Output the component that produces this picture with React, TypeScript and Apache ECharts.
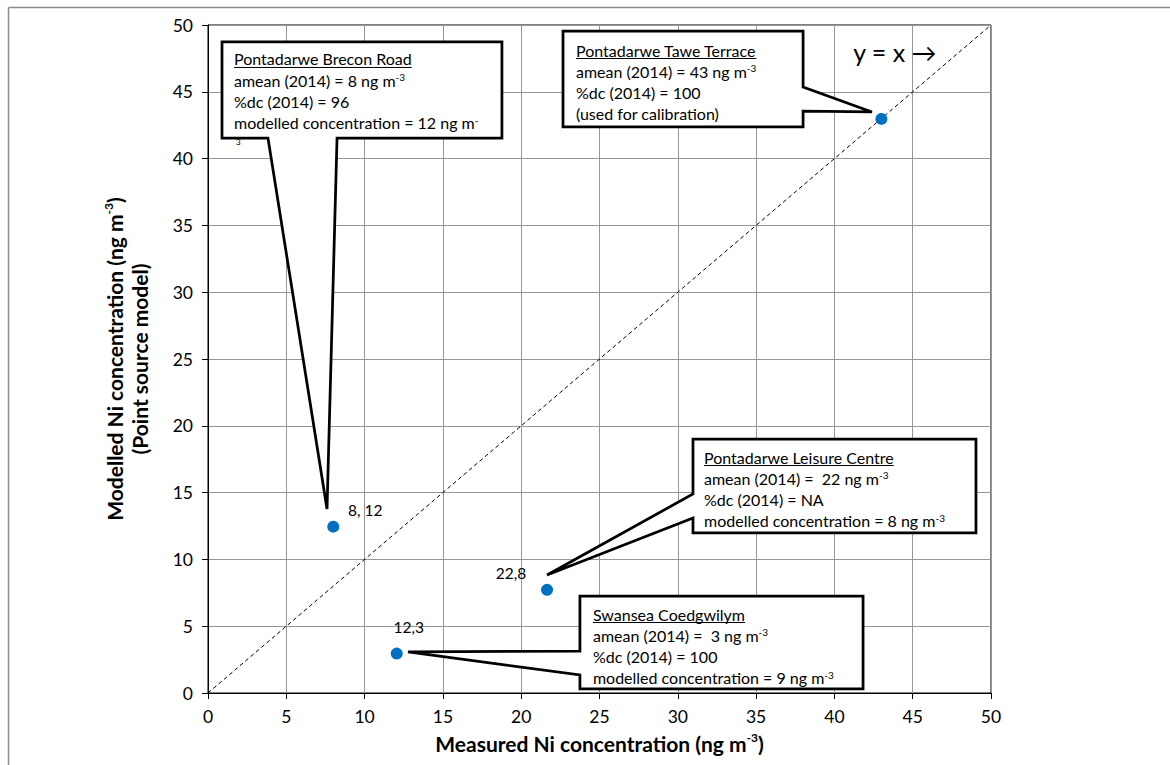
import React, { useEffect, useRef } from "react";
import * as echarts from "echarts";

// ---------- data ----------
const siteNames = [
  "Pontadarwe Brecon Road",
  "Swansea Coedgwilym",
  "Pontadarwe Leisure Centre",
  "Pontadarwe Tawe Terrace",
];
const measuredNi = [8.0, 12.05, 21.65, 43.0];
const modelledNi = [12.45, 2.95, 7.72, 42.97];
const pointLabels = ["8, 12", "12,3", "22,8", ""];
const identityLine = [
  [0, 0],
  [50, 50],
];
const axisMin = 0;
const axisMax = 50;
const axisStep = 5;

const xAxisTitle = "{b|Measured Ni concentration (ng m}{s|-3}{b|)}";
const yAxisTitle = "{b|Modelled Ni concentration (ng m}{s|-3}{b|)}\n{b|(Point source model)}";
const identityNote = "y = x \u2192";

const calloutTitles = [
  "Pontadarwe Brecon Road",
  "Pontadarwe Tawe Terrace",
  "Pontadarwe Leisure Centre",
  "Swansea Coedgwilym",
];
const calloutLines = [
  ["amean (2014) = 8 ng m{s|-3}", "%dc (2014) = 96", "modelled concentration = 12 ng m{s|-}"],
  ["amean (2014) = 43 ng m{s|-3}", "%dc (2014) = 100", "(used for calibration)"],
  ["amean (2014) =  22 ng m{s|-3}", "%dc (2014) = NA", "modelled concentration = 8 ng m{s|-3}"],
  ["amean (2014) =  3 ng m{s|-3}", "%dc (2014) = 100", "modelled concentration = 9 ng m{s|-3}"],
];

// ---------- layout (annotation geometry in axis units) ----------
const calloutShapes: number[][][] = [
  [[0.894, 48.73], [18.77, 48.73], [18.77, 41.54], [8.24, 41.54], [7.6, 13.77], [3.83, 41.54], [0.894, 41.54]],
  [[22.67, 49.55], [38.0, 49.55], [38.0, 45.36], [42.4, 43.49], [38.0, 43.56], [38.0, 42.37], [22.67, 42.37]],
  [[30.97, 19.01], [49.04, 19.01], [49.04, 11.98], [30.97, 11.98], [30.97, 13.1], [21.65, 8.83], [30.97, 14.9]],
  [[23.75, 7.26], [41.83, 7.26], [41.83, 0.3], [23.75, 0.3], [23.75, 1.35], [12.77, 3.07], [23.75, 3.14]],
];
const calloutTextOffsets = [
  [12, 17],
  [13, 19],
  [11, 18],
  [13, 18],
];
const labelOffsets = [
  [32, -17],
  [12, -27],
  [-36, -17],
  [0, 0],
];
const notePos = [41.2, 47.95];

const FONT = "Lato";
const TXT = 16;
const LINE_GAP = 21.3;
const TITLE = 21;

function measure(text: string, font: string): number {
  const c = document.createElement("canvas").getContext("2d");
  if (!c) return text.length * 7;
  c.font = font;
  return c.measureText(text).width;
}

export default function App() {
  const ref = useRef<HTMLDivElement>(null);

  useEffect(() => {
    if (!ref.current) return;
    const chart = echarts.init(ref.current, null, { renderer: "svg" });

    const scatterData = measuredNi.map((x, i) => ({
      value: [x, modelledNi[i]],
      name: siteNames[i],
      label: {
        show: pointLabels[i] !== "",
        formatter: pointLabels[i],
        position: "inside",
        offset: labelOffsets[i],
        color: "#000",
        fontSize: 15.5,
        fontFamily: FONT,
      },
    }));

    const titleRich = {
      b: { fontSize: TITLE, fontWeight: "bold", fontFamily: FONT, color: "#000", lineHeight: 25 },
      s: { fontSize: 12, fontWeight: "bold", fontFamily: FONT, color: "#000", verticalAlign: "top" },
    };

    const option: any = {
      animation: false,
      backgroundColor: "#fff",
      textStyle: { fontFamily: FONT },
      grid: {
        left: 208,
        top: 25,
        right: 179,
        bottom: 72,
        show: true,
        borderColor: "#000",
        borderWidth: 1,
        backgroundColor: "transparent",
      },
      xAxis: {
        type: "value",
        min: axisMin,
        max: axisMax,
        interval: axisStep,
        axisLine: { show: true, lineStyle: { color: "#000", width: 1 } },
        axisTick: { show: true, inside: false, length: 6, lineStyle: { color: "#000" } },
        axisLabel: { color: "#000", fontSize: 17.5, fontFamily: FONT, margin: 14 },
        splitLine: { show: true, lineStyle: { color: "#969696", width: 1 } },
        name: xAxisTitle,
        nameLocation: "middle",
        nameGap: 38,
        nameTextStyle: {
          color: "#000",
          fontFamily: FONT,
          fontSize: TITLE,
          fontWeight: "bold",
          rich: titleRich,
        },
      },
      yAxis: {
        type: "value",
        min: axisMin,
        max: axisMax,
        interval: axisStep,
        axisLine: { show: true, lineStyle: { color: "#000", width: 1 } },
        axisTick: { show: true, inside: false, length: 6, lineStyle: { color: "#000" } },
        axisLabel: { color: "#000", fontSize: 17.5, fontFamily: FONT, margin: 15 },
        splitLine: { show: true, lineStyle: { color: "#969696", width: 1 } },
        name: yAxisTitle,
        nameLocation: "middle",
        nameRotate: 90,
        nameGap: 56,
        nameTextStyle: {
          color: "#000",
          fontFamily: FONT,
          fontSize: TITLE,
          fontWeight: "bold",
          lineHeight: 25,
          rich: titleRich,
        },
      },
      series: [
        {
          type: "line",
          data: identityLine,
          symbol: "none",
          silent: true,
          lineStyle: { color: "#000", width: 1, type: [4, 3] },
          z: 2,
        },
        {
          type: "scatter",
          data: scatterData,
          symbol: "circle",
          symbolSize: 12,
          itemStyle: { color: "#0070C0", opacity: 1 },
          z: 5,
        },
      ],
    };

    chart.setOption(option);

    const toPx = (p: number[]) => chart.convertToPixel({ gridIndex: 0 }, p) as number[];
    const elements: any[] = [];

    // outer frame
    elements.push({
      type: "line",
      shape: { x1: 8.5, y1: 7.5, x2: 1170, y2: 7.5 },
      style: { stroke: "#8c8c8c", lineWidth: 1.5 },
      silent: true,
    });
    elements.push({
      type: "line",
      shape: { x1: 8.5, y1: 7.5, x2: 8.5, y2: 765 },
      style: { stroke: "#8c8c8c", lineWidth: 1.5 },
      silent: true,
    });

    const rich = {
      s: { fontSize: 10, fontFamily: FONT, fill: "#000", verticalAlign: "top" },
    };

    calloutShapes.forEach((shape, i) => {
      const pts = shape.map((p) => toPx(p));
      elements.push({
        type: "polygon",
        shape: { points: pts },
        style: { fill: "#fff", stroke: "#000", lineWidth: 2.75, lineJoin: "miter" },
        z: 100,
        silent: true,
      });
      const tx = pts[0][0] + calloutTextOffsets[i][0];
      const ty = pts[0][1] + calloutTextOffsets[i][1];
      const titleW = measure(calloutTitles[i], `${TXT}px ${FONT}`);
      elements.push({
        type: "text",
        x: tx,
        y: ty,
        z: 101,
        silent: true,
        style: {
          text: calloutTitles[i],
          fontSize: TXT,
          fontFamily: FONT,
          fill: "#000",
          align: "left",
          verticalAlign: "middle",
        },
      });
      elements.push({
        type: "line",
        z: 101,
        silent: true,
        shape: { x1: tx, y1: ty + 8.5, x2: tx + titleW, y2: ty + 8.5 },
        style: { stroke: "#000", lineWidth: 1 },
      });
      calloutLines[i].forEach((line, j) => {
        elements.push({
          type: "text",
          x: tx,
          y: ty + LINE_GAP * (j + 1),
          z: 101,
          silent: true,
          style: {
            text: line,
            fontSize: TXT,
            fontFamily: FONT,
            fill: "#000",
            align: "left",
            verticalAlign: "middle",
            rich,
          },
        });
      });
      if (i === 0) {
        // overflowing superscript "3" of the first callout
        elements.push({
          type: "text",
          x: pts[0][0] + 14,
          y: pts[6][1] + 4,
          z: 101,
          silent: true,
          style: { text: "3", fontSize: 8, fontFamily: FONT, fill: "#000", align: "left", verticalAlign: "middle" },
        });
      }
    });

    const np = toPx(notePos);
    elements.push({
      type: "text",
      x: np[0],
      y: np[1],
      z: 101,
      silent: true,
      style: {
        text: identityNote,
        fontSize: 25,
        fontFamily: FONT,
        fill: "#000",
        align: "left",
        verticalAlign: "middle",
      },
    });

    chart.setOption({ graphic: { elements } });

    return () => chart.dispose();
  }, []);

  return (
    <div
      ref={ref}
      style={{ position: "fixed", left: 0, top: 0, width: 1170, height: 765, background: "#fff" }}
    />
  );
}
